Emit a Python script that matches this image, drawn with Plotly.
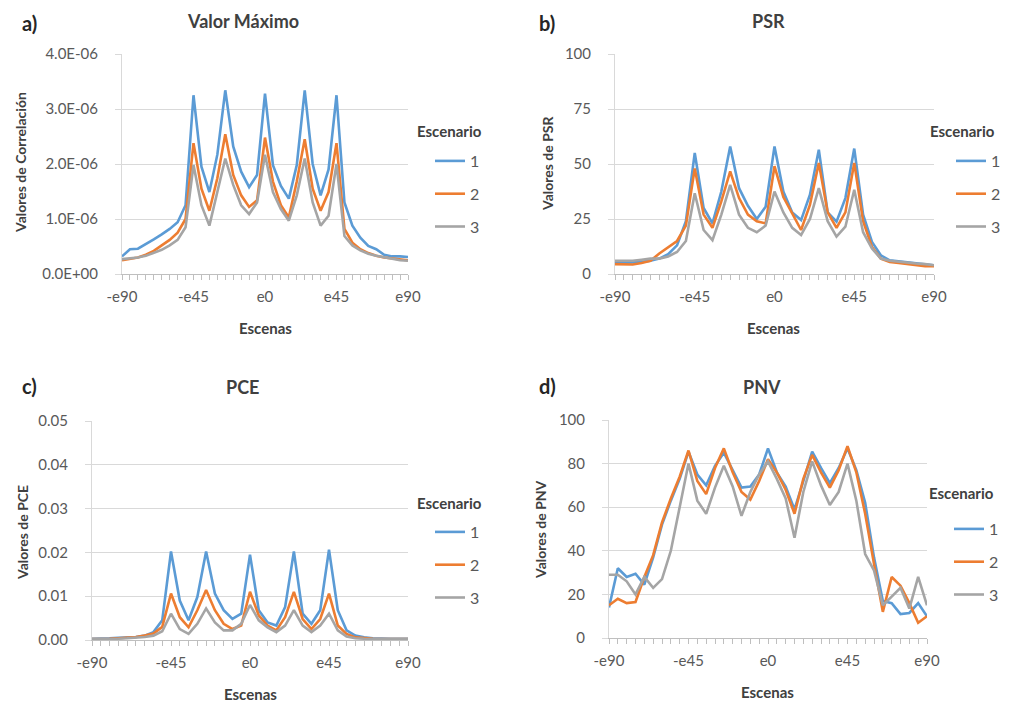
import plotly.graph_objects as go

# ---------------- data ----------------
scenes = [-90, -85, -80, -75, -70, -65, -60, -55, -50, -45, -40, -35, -30, -25, -20, -15, -10, -5, 0,
          5, 10, 15, 20, 25, 30, 35, 40, 45, 50, 55, 60, 65, 70, 75, 80, 85, 90]
scene_labels = [("-e%d" % -s) if s < 0 else ("e%d" % s) for s in scenes]
shown_labels = ["-e90", "-e45", "e0", "e45", "e90"]
scenarios = ["1", "2", "3"]
colors = ["#5B9BD5", "#ED7D31", "#A5A5A5"]

# a) Valor Máximo
vmax_1 = [0.32e-6, 0.45e-6, 0.46e-6, 0.54e-6, 0.63e-6, 0.72e-6, 0.82e-6, 0.94e-6, 1.25e-6, 3.25e-6,
          1.95e-6, 1.49e-6, 2.17e-6, 3.34e-6, 2.32e-6, 1.86e-6, 1.58e-6, 1.8e-6, 3.28e-6, 1.98e-6,
          1.6e-6, 1.37e-6, 1.98e-6, 3.34e-6, 2.0e-6, 1.43e-6, 1.9e-6, 3.25e-6, 1.3e-6, 0.88e-6,
          0.66e-6, 0.51e-6, 0.45e-6, 0.35e-6, 0.32e-6, 0.32e-6, 0.31e-6]
vmax_2 = [0.25e-6, 0.27e-6, 0.30e-6, 0.35e-6, 0.42e-6, 0.52e-6, 0.62e-6, 0.75e-6, 1.0e-6, 2.38e-6,
          1.55e-6, 1.15e-6, 1.74e-6, 2.54e-6, 1.8e-6, 1.43e-6, 1.22e-6, 1.34e-6, 2.48e-6, 1.68e-6,
          1.25e-6, 1.03e-6, 1.68e-6, 2.45e-6, 1.55e-6, 1.15e-6, 1.49e-6, 2.38e-6, 0.82e-6, 0.57e-6,
          0.45e-6, 0.38e-6, 0.33e-6, 0.30e-6, 0.28e-6, 0.26e-6, 0.25e-6]
vmax_3 = [0.27e-6, 0.28e-6, 0.30e-6, 0.33e-6, 0.38e-6, 0.44e-6, 0.52e-6, 0.62e-6, 0.85e-6, 1.98e-6,
          1.25e-6, 0.88e-6, 1.49e-6, 2.1e-6, 1.62e-6, 1.25e-6, 1.09e-6, 1.3e-6, 2.17e-6, 1.49e-6,
          1.18e-6, 0.97e-6, 1.43e-6, 2.1e-6, 1.3e-6, 0.88e-6, 1.06e-6, 2.0e-6, 0.69e-6, 0.52e-6,
          0.43e-6, 0.37e-6, 0.33e-6, 0.30e-6, 0.27e-6, 0.25e-6, 0.24e-6]
vmax_ticks = [0, 1e-6, 2e-6, 3e-6, 4e-6]
vmax_ticktext = ["0.0E+00", "1.0E-06", "2.0E-06", "3.0E-06", "4.0E-06"]

# b) PSR
psr_1 = [5, 5, 5.2, 5.5, 6, 7, 9, 13, 24, 55, 30, 23, 37.5, 58, 39, 31, 25, 30.6, 58, 37.5,
         28, 24.5, 36, 56.5, 28, 23.8, 34.5, 57, 27, 14.6, 8.5, 6.2, 5.8, 5.5, 5, 4.5, 4]
psr_2 = [4.5, 4.5, 4.3, 5, 6, 9.3, 12.3, 15, 22, 48, 27, 21, 33, 46.6, 34.5, 27, 24, 23, 49, 35,
         27.6, 20, 31.4, 50.5, 28, 21, 28, 50.5, 24, 12.3, 7, 5.5, 5, 4.5, 4, 3.5, 3.5]
psr_3 = [6, 6, 6, 6.5, 7, 7, 8, 10, 15, 36.7, 20, 15.4, 27, 40.5, 27, 21, 19, 22, 37.5, 28,
         21, 17.7, 25, 39, 24, 17, 21.5, 38.3, 19, 11.6, 7, 6, 5.5, 5, 4.8, 4.5, 4]
psr_ticks = [0, 25, 50, 75, 100]

# c) PCE
pce_1 = [0.0003, 0.0003, 0.0004, 0.0005, 0.0006, 0.0007, 0.0010, 0.0018, 0.0045, 0.0202,
         0.0090, 0.0045, 0.0098, 0.0202, 0.0106, 0.0068, 0.0048, 0.0060, 0.0195, 0.0068,
         0.0040, 0.0033, 0.0075, 0.0202, 0.0060, 0.0037, 0.0068, 0.0206, 0.0068, 0.0022,
         0.0010, 0.0006, 0.0004, 0.0003, 0.0003, 0.0003, 0.0003]
pce_2 = [0.0002, 0.0002, 0.0003, 0.0004, 0.0005, 0.0007, 0.0010, 0.0015, 0.0030, 0.0106,
         0.0052, 0.0029, 0.0068, 0.0114, 0.0068, 0.0037, 0.0025, 0.0033, 0.0110, 0.0056,
         0.0033, 0.0022, 0.0052, 0.0110, 0.0048, 0.0025, 0.0048, 0.0106, 0.0033, 0.0014,
         0.0006, 0.0004, 0.0003, 0.0002, 0.0002, 0.0002, 0.0002]
pce_3 = [0.0002, 0.0002, 0.0002, 0.0003, 0.0004, 0.0005, 0.0007, 0.0010, 0.0020, 0.0060,
         0.0025, 0.0014, 0.0037, 0.0072, 0.0040, 0.0022, 0.0022, 0.0037, 0.0080, 0.0045,
         0.0029, 0.0018, 0.0033, 0.0068, 0.0033, 0.0018, 0.0033, 0.0060, 0.0022, 0.0008,
         0.0004, 0.0003, 0.0002, 0.0002, 0.0002, 0.0002, 0.0002]
pce_ticks = [0, 0.01, 0.02, 0.03, 0.04, 0.05]

# d) PNV
pnv_1 = [14, 32, 28, 29.5, 24.5, 37, 52, 63, 73, 85.5, 75, 70, 79, 85, 77, 69, 69.5, 75, 87, 76,
         69.5, 59, 72, 85.5, 78, 71, 78, 87, 77, 62, 37, 17, 16, 11, 11.5, 16, 10]
pnv_2 = [15, 18, 16, 16.5, 28, 38, 53, 64, 74, 86, 72, 66, 78, 87, 76, 67, 63.5, 72, 82, 76,
         68, 57, 73, 84, 76, 69, 77, 88, 76, 57, 34, 12, 28, 24, 16, 7, 10]
pnv_3 = [29, 29, 26, 20, 28, 23, 27, 40, 60, 80, 63, 57, 69, 79, 69.5, 56, 67, 75, 81, 73,
         64, 46, 67, 81, 70, 61, 67, 80, 63, 38.5, 31, 15, 19, 23, 13.5, 28, 15]
pnv_ticks = [0, 20, 40, 60, 80, 100]

# ---------------- layout helpers ----------------
OFF = 8                       # page body margin of the browser
W, H = 1011 - OFF, 702 - OFF  # figure size that fills the visible window
FONT = "Lato, 'Open Sans', Arial, sans-serif"
TICK_COLOR = "#595959"
GRID = "#D9D9D9"


def px(x):
    return (x - OFF) / W


def py(y):
    return 1 - (y - OFF) / H


panels = [
    dict(key="a", title="Valor Máximo", ytitle="Valores de Correlación",
         series=[vmax_1, vmax_2, vmax_3], yrange=[0, 4e-6], yticks=vmax_ticks, yticktext=vmax_ticktext,
         xdom=[122, 408], ydom=[274, 54], legend="legend",
         lab=(20, 23), tit=(243, 21), ytit=(20, 163), xtit=(265, 328),
         esc=(415, 131), leg=(430, 194)),
    dict(key="b", title="PSR", ytitle="Valores de PSR",
         series=[psr_1, psr_2, psr_3], yrange=[0, 100], yticks=psr_ticks, yticktext=[str(v) for v in psr_ticks],
         xdom=[615, 934], ydom=[274, 54], legend="legend2",
         lab=(537, 23), tit=(768, 21), ytit=(547, 163), xtit=(773, 328),
         esc=(928, 131), leg=(951, 194)),
    dict(key="c", title="PCE", ytitle="Valores de PCE",
         series=[pce_1, pce_2, pce_3], yrange=[0, 0.05], yticks=pce_ticks,
         yticktext=["%.2f" % v for v in pce_ticks],
         xdom=[92, 408], ydom=[640, 421], legend="legend3",
         lab=(20, 386), tit=(242, 387), ytit=(22, 533), xtit=(250, 694),
         esc=(415, 503), leg=(430, 565)),
    dict(key="d", title="PNV", ytitle="Valores de PNV",
         series=[pnv_1, pnv_2, pnv_3], yrange=[0, 100], yticks=pnv_ticks, yticktext=[str(v) for v in pnv_ticks],
         xdom=[609, 927], ydom=[638, 420], legend="legend4",
         lab=(537, 386), tit=(762, 387), ytit=(540, 530), xtit=(767, 692),
         esc=(927, 493), leg=(949, 562)),
]

fig = go.Figure()
layout = dict(
    width=W, height=H, autosize=False,
    margin=dict(l=0, r=0, t=0, b=0, pad=0, autoexpand=False),
    paper_bgcolor="white", plot_bgcolor="white",
    font=dict(family=FONT, color=TICK_COLOR, size=14),
    annotations=[],
)

ticktext_x = [lab if lab in shown_labels else "" for lab in scene_labels]

for i, p in enumerate(panels):
    n = "" if i == 0 else str(i + 1)
    xa, ya = "x" + n, "y" + n
    for s, (vals, name, col) in enumerate(zip(p["series"], scenarios, colors)):
        fig.add_trace(go.Scatter(
            x=scene_labels, y=vals, name=name, mode="lines",
            line=dict(color=col, width=2.6),
            xaxis=xa, yaxis=ya, legend=p["legend"],
            legendgroup=p["key"] + name, showlegend=True,
        ))
    layout["xaxis" + n] = dict(
        domain=[px(p["xdom"][0]), px(p["xdom"][1])], anchor=ya,
        type="category", range=[0, len(scene_labels) - 1],
        tickmode="array", tickvals=scene_labels, ticktext=ticktext_x,
        ticks="outside", ticklen=5, tickcolor="#BFBFBF", tickwidth=1,
        showline=True, linecolor="#BFBFBF", linewidth=1,
        showgrid=False, zeroline=False, automargin=False,
        tickfont=dict(size=15, color=TICK_COLOR), ticklabelstandoff=4,
    )
    layout["yaxis" + n] = dict(
        domain=[py(p["ydom"][0]), py(p["ydom"][1])], anchor=xa,
        range=p["yrange"], tickmode="array", tickvals=p["yticks"], ticktext=p["yticktext"],
        ticks="outside", ticklen=6, tickcolor=GRID, tickwidth=1,
        showline=True, linecolor=GRID, linewidth=1,
        showgrid=True, gridcolor=GRID, gridwidth=1.3, zeroline=False, automargin=False,
        tickfont=dict(size=15, color=TICK_COLOR), ticklabelstandoff=14,
    )
    layout[p["legend"]] = dict(
        x=px(p["leg"][0]), y=py(p["leg"][1]), xanchor="left", yanchor="middle",
        bgcolor="rgba(0,0,0,0)", font=dict(size=16, color=TICK_COLOR, family=FONT),
        traceorder="grouped", tracegroupgap=9, itemwidth=30,
    )
    ann = layout["annotations"]
    ann.append(dict(text="<b>%s)</b>" % p["key"], x=px(p["lab"][0]), y=py(p["lab"][1]),
                    xref="paper", yref="paper", xanchor="left", yanchor="middle", showarrow=False,
                    font=dict(size=20, color="#262626", family=FONT)))
    ann.append(dict(text="<b>%s</b>" % p["title"], x=px(p["tit"][0]), y=py(p["tit"][1]),
                    xref="paper", yref="paper", xanchor="center", yanchor="middle", showarrow=False,
                    font=dict(size=18, color="#404040", family=FONT)))
    ann.append(dict(text="<b>%s</b>" % p["ytitle"], x=px(p["ytit"][0]), y=py(p["ytit"][1]),
                    xref="paper", yref="paper", xanchor="center", yanchor="middle", showarrow=False,
                    textangle=-90, font=dict(size=14, color="#404040", family=FONT)))
    ann.append(dict(text="<b>Escenas</b>", x=px(p["xtit"][0]), y=py(p["xtit"][1]),
                    xref="paper", yref="paper", xanchor="center", yanchor="middle", showarrow=False,
                    font=dict(size=15, color="#404040", family=FONT)))
    ann.append(dict(text="<b>Escenario</b>", x=px(p["esc"][0]), y=py(p["esc"][1]),
                    xref="paper", yref="paper", xanchor="left", yanchor="middle", showarrow=False,
                    font=dict(size=15, color="#404040", family=FONT)))

fig.update_layout(**layout)
fig.write_html("out.html")
